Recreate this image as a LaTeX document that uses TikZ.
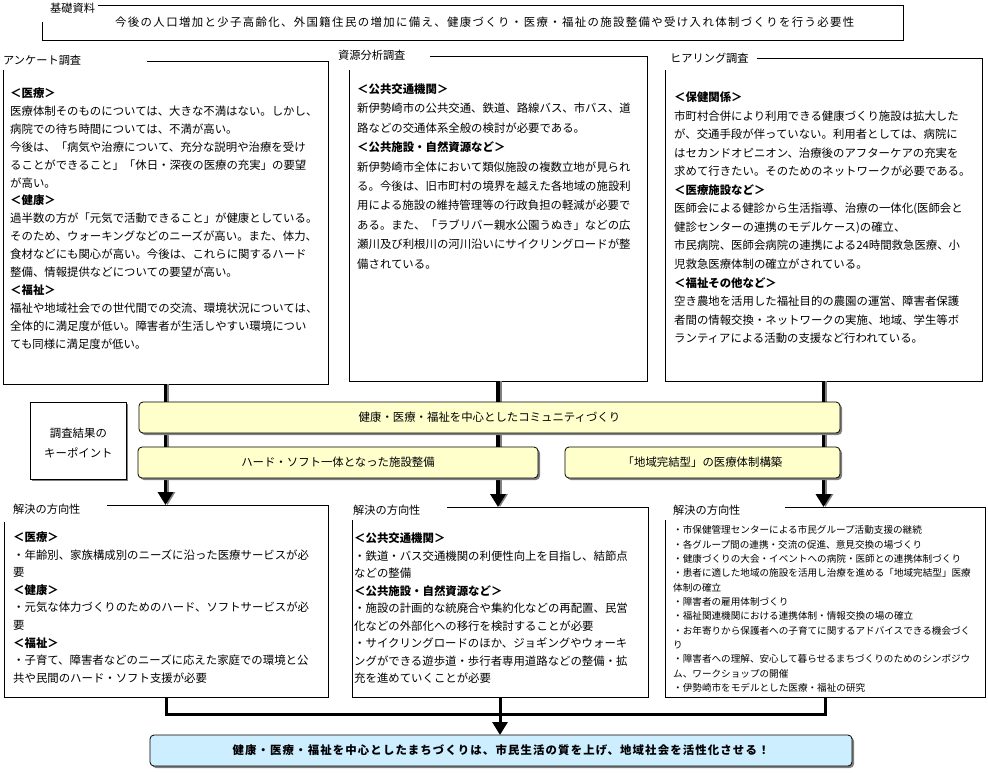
\documentclass[tikz,border=0pt]{standalone}
\usepackage{fontspec}
\setmainfont{Noto Sans CJK JP}
\newfontfamily\jp{Noto Sans CJK JP}
\usetikzlibrary{arrows.meta,shadows}
\definecolor{yel}{HTML}{FFFFCC}
\definecolor{blu}{HTML}{CCEEFF}
\definecolor{shd}{HTML}{808080}
\newcommand\fr{\rule{0pt}{10pt}}
\tikzset{
  frame/.style={draw, line width=0.9pt, inner sep=0pt, outer sep=0pt, anchor=north west},
  cover/.style={fill=white, inner sep=0pt, outer sep=0pt, anchor=south west},
  lbl/.style={anchor=west, inner sep=0pt, font=\jp\fontsize{11.2}{13}\selectfont},
  txt/.style={anchor=north west, inner sep=0pt, align=left},
  ybox/.style={draw, line width=0.8pt, rounded corners=4pt, fill=yel, inner sep=0pt, outer sep=0pt, anchor=north west,
    drop shadow={shadow xshift=2pt, shadow yshift=-2pt, fill=shd, opacity=1},
    font=\jp\fontsize{11.4}{14}\selectfont},
  conn/.style={line width=3.4pt, draw=black},
  connsh/.style={line width=3.4pt, draw=shd},
  conn2/.style={line width=3pt, draw=black},
  tip/.style={-{Triangle[width=15pt,length=13pt]}},
}
\begin{document}
\begin{tikzpicture}[x=1pt,y=-1pt]
\useasboundingbox[fill=white] (0,0) rectangle (988,772);

% ---------- frames ----------
\node[frame, minimum width=861, minimum height=35] (top) at (42,5) {};
\node[frame, minimum width=325, minimum height=323] (ank) at (3,61) {};
\node[frame, minimum width=298, minimum height=325] (shg) at (349,56) {};
\node[frame, minimum width=317, minimum height=323] (hea) at (665,58) {};
\node[frame, minimum width=324, minimum height=192] (solL) at (4,505) {};
\node[frame, minimum width=296, minimum height=190] (solM) at (352,507) {};
\node[frame, minimum width=320, minimum height=190] (solR) at (665,507) {};

% ---------- label covers ----------
\node[cover, minimum width=58, minimum height=22] (topc) at (40,22) {};
\node[cover, minimum width=147, minimum height=24] (ankc) at (0,70) {};
\node[cover, minimum width=94, minimum height=24] (shgc) at (336,70) {};
\node[cover, minimum width=97, minimum height=24] (heac) at (660,70) {};
\node[cover, minimum width=107, minimum height=24] (solLc) at (0,522) {};
\node[cover, minimum width=99, minimum height=24] (solMc) at (348,520) {};
\node[cover, minimum width=123, minimum height=24] (solRc) at (662,520) {};

% ---------- labels ----------
\node[lbl] (topl) at (50,8) {基礎資料};
\node[lbl] (ankl) at (3,60) {アンケート調査};
\node[lbl] (shgl) at (338,55) {資源分析調査};
\node[lbl] (heal) at (670,58) {ヒアリング調査};
\node[lbl] (solLl) at (13,509) {解決の方向性};
\node[lbl] (solMl) at (353,510) {解決の方向性};
\node[lbl] (solRl) at (673,510) {解決の方向性};

% ---------- top text ----------
\node[anchor=west, inner sep=0pt, font=\jp\fontsize{11.4}{14}\selectfont\addfontfeature{LetterSpace=12}] (topt) at (115,22)
 {今後の人口増加と少子高齢化、外国籍住民の増加に備え、健康づくり・医療・福祉の施設整備や受け入れ体制づくりを行う必要性};

% ---------- survey texts ----------
\node[txt, font=\jp\fontsize{11.4}{17.9}\selectfont] (ankt) at (10,87.3) {%
\fr\textbf{＜医療＞}\\
医療体制そのものについては、大きな不満はない。しかし、\\
病院での待ち時間については、不満が高い。\\
今後は、「病気や治療について、充分な説明や治療を受け\\
ることができること」「休日・深夜の医療の充実」の要望\\
が高い。\\
\textbf{＜健康＞}\\
過半数の方が「元気で活動できること」が健康としている。\\
そのため、ウォーキングなどのニーズが高い。また、体力、\\
食材などにも関心が高い。今後は、これらに関するハード\\
整備、情報提供などについての要望が高い。\\
\textbf{＜福祉＞}\\
福祉や地域社会での世代間での交流、環境状況については、\\
全体的に満足度が低い。障害者が生活しやすい環境につい\\
ても同様に満足度が低い。};

\node[txt, font=\jp\fontsize{11.4}{19.4}\selectfont] (shgt) at (357,83.3) {%
\fr\textbf{＜公共交通機関＞}\\
新伊勢崎市の公共交通、鉄道、路線バス、市バス、道\\
路などの交通体系全般の検討が必要である。\\
\textbf{＜公共施設・自然資源など＞}\\
新伊勢崎市全体において類似施設の複数立地が見られ\\
る。今後は、旧市町村の境界を越えた各地域の施設利\\
用による施設の維持管理等の行政負担の軽減が必要で\\
ある。また、「ラブリバー親水公園うぬき」などの広\\
瀬川及び利根川の河川沿いにサイクリングロードが整\\
備されている。};

\node[txt, font=\jp\fontsize{11.4}{18.55}\selectfont] (heat) at (674,91.3) {%
\fr\textbf{＜保健関係＞}\\
市町村合併により利用できる健康づくり施設は拡大した\\
が、交通手段が伴っていない。利用者としては、病院に\\
はセカンドオピニオン、治療後のアフターケアの充実を\\
求めて行きたい。そのためのネットワークが必要である。\\
\textbf{＜医療施設など＞}\\
医師会による健診から生活指導、治療の一体化(医師会と\\
健診センターの連携のモデルケース)の確立、\\
市民病院、医師会病院の連携による24時間救急医療、小\\
児救急医療体制の確立がされている。\\
\textbf{＜福祉その他など＞}\\
空き農地を活用した福祉目的の農園の運営、障害者保護\\
者間の情報交換・ネットワークの実施、地域、学生等ボ\\
ランティアによる活動の支援など行われている。};

% ---------- connectors (under yellow boxes) ----------
\draw[connsh, tip] ([xshift=2pt]ank.south) -- ([xshift=2pt]ank.south |- solL.north);
\draw[connsh, tip] ([xshift=2pt]shg.south) -- ([xshift=2pt]shg.south |- solM.north);
\draw[connsh, tip] ([xshift=2pt]hea.south) -- ([xshift=2pt]hea.south |- solR.north);
\draw[conn, tip] (ank.south) -- (ank.south |- solL.north);
\draw[conn, tip] (shg.south) -- (shg.south |- solM.north);
\draw[conn, tip] (hea.south) -- (hea.south |- solR.north);

% ---------- key points ----------
\node[draw, line width=0.8pt, fill=white, inner sep=0pt, anchor=north west, minimum width=96, minimum height=77,
  drop shadow={shadow xshift=1.5pt, shadow yshift=-1.5pt, fill=shd, opacity=1}] (key) at (30,402) {};
\node[align=center, inner sep=0pt, font=\jp\fontsize{11.4}{20}\selectfont] (keyt) at ([yshift=-2.5pt]key.center) {調査結果の\\キーポイント};

\node[ybox, minimum width=701, minimum height=31] (y1) at (139,402) {健康・医療・福祉を中心としたコミュニティづくり};
\node[ybox, minimum width=400, minimum height=31] (y2) at (138,447) {ハード・ソフト一体となった施設整備};
\node[ybox, minimum width=275, minimum height=31] (y3) at (565,447) {「地域完結型」の医療体制構築};

% ---------- solution texts ----------
\node[txt, font=\jp\fontsize{11.4}{17.6}\selectfont] (solLt) at (13,531.3) {%
\fr\textbf{＜医療＞}\\
・年齢別、家族構成別のニーズに沿った医療サービスが必\\
要\\
\textbf{＜健康＞}\\
・元気な体力づくりのためのハード、ソフトサービスが必\\
要\\
\textbf{＜福祉＞}\\
・子育て、障害者などのニーズに応えた家庭での環境と公\\
共や民間のハード・ソフト支援が必要};

\node[txt, font=\jp\fontsize{11.4}{17.5}\selectfont] (solMt) at (354,532.3) {%
\fr\textbf{＜公共交通機関＞}\\
・鉄道・バス交通機関の利便性向上を目指し、結節点\\
などの整備\\
\textbf{＜公共施設・自然資源など＞}\\
・施設の計画的な統廃合や集約化などの再配置、民営\\
化などの外部化への移行を検討することが必要\\
・サイクリングロードのほか、ジョギングやウォーキ\\
ングができる遊歩道・歩行者専用道路などの整備・拡\\
充を進めていくことが必要};

\node[txt, font=\jp\fontsize{9.6}{14.35}\selectfont] (solRt) at (673,525.2) {%
\rule{0pt}{8.4pt}・市保健管理センターによる市民グループ活動支援の継続\\
・各グループ間の連携・交流の促進、意見交換の場づくり\\
・健康づくりの大会・イベントへの病院・医師との連携体制づくり\\
・患者に適した地域の施設を活用し治療を進める「地域完結型」医療\\
体制の確立\\
・障害者の雇用体制づくり\\
・福祉関連機関における連携体制・情報交換の場の確立\\
・お年寄りから保護者への子育てに関するアドバイスできる機会づく\\
り\\
・障害者への理解、安心して暮らせるまちづくりのためのシンポジウ\\
ム、ワークショップの開催\\
・伊勢崎市をモデルとした医療・福祉の研究};

% ---------- final ----------
\node[draw, line width=0.8pt, rounded corners=4pt, fill=blu, inner sep=0pt, outer sep=0pt, anchor=north west,
  minimum width=702, minimum height=31,
  drop shadow={shadow xshift=2pt, shadow yshift=-2pt, fill=shd, opacity=1},
  font=\jp\fontsize{11.4}{14}\selectfont\bfseries\addfontfeature{LetterSpace=10}] (fin) at (150,735)
  {健康・医療・福祉を中心としたまちづくりは、市民生活の質を上げ、地域社会を活性化させる！};

\coordinate (jn) at (499,714);
\draw[conn2] (solL.south) -- (solL.south |- jn) -| (solR.south);
\draw[conn2, tip] (solM.south) -- (solM.south |- fin.north);
\end{tikzpicture}
\end{document}
